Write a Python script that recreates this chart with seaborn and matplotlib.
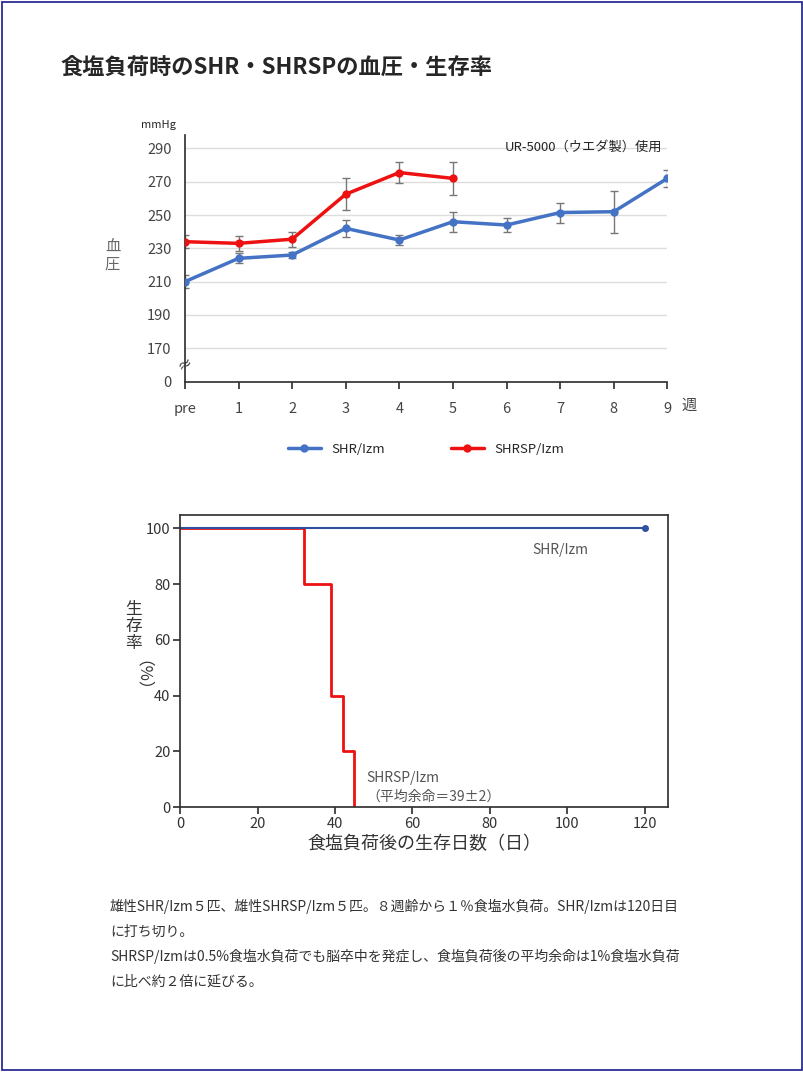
import matplotlib
matplotlib.use('Agg')
import matplotlib.pyplot as plt
import seaborn as sns
import pandas as pd

sns.set_theme(style='white')
plt.rcParams['font.family'] = ['Noto Sans CJK JP', 'DejaVu Sans']

# 血圧データ（"0" は軸の切断位置として 150 に置く）
weeks = ['pre', '1', '2', '3', '4', '5', '6', '7', '8', '9']
shr_bp = [210, 224, 226, 242, 235, 246, 244, 251.5, 252, 272]
shr_err = [4, 3, 2, 5, 3, 6, 4, 6, 12.5, 5]
shrsp_bp = [234, 233, 235.5, 262.5, 275.5, 272]
shrsp_err = [4, 4.5, 4.5, 9.5, 6.5, 10]
y_ticks = [150, 170, 190, 210, 230, 250, 270, 290]
y_labels = ['0', '170', '190', '210', '230', '250', '270', '290']

# 生存率データ
shr_days = [0, 120]
shr_surv = [100, 100]
shrsp_days = [0, 32, 39, 42, 45]
shrsp_surv = [100, 80, 40, 20, 0]

blue = '#4472C4'
red = '#EE1111'

fig = plt.figure(figsize=(8.04, 10.72), dpi=100)
fig.patches.append(plt.Rectangle((0.002, 0.002), 0.996, 0.996, transform=fig.transFigure,
                                 fill=False, edgecolor='#1a1a8c', linewidth=1.2))
fig.text(0.075, 0.93, '食塩負荷時のSHR・SHRSPの血圧・生存率', fontsize=16, fontweight='bold')

# 上段: 血圧
ax1 = fig.add_axes([0.23, 0.644, 0.6, 0.23])
x = list(range(len(weeks)))
df1 = pd.DataFrame({'x': x, 'bp': shr_bp})
df2 = pd.DataFrame({'x': x[:len(shrsp_bp)], 'bp': shrsp_bp})
ax1.errorbar(x, shr_bp, yerr=shr_err, fmt='none', ecolor='#777777', elinewidth=1, capsize=3, zorder=2)
ax1.errorbar(df2['x'], shrsp_bp, yerr=shrsp_err, fmt='none', ecolor='#777777', elinewidth=1, capsize=3, zorder=2)
sns.lineplot(data=df1, x='x', y='bp', ax=ax1, color=blue, marker='o', markersize=6,
             markeredgewidth=0, linewidth=2.5, label='SHR/Izm', zorder=3)
sns.lineplot(data=df2, x='x', y='bp', ax=ax1, color=red, marker='o', markersize=6,
             markeredgewidth=0, linewidth=2.5, label='SHRSP/Izm', zorder=3)
ax1.set_xlim(0, 9)
ax1.set_ylim(150, 298)
ax1.set_yticks(y_ticks)
ax1.set_yticklabels(y_labels)
ax1.set_xticks(x)
ax1.set_xticklabels(weeks)
for yt in y_ticks[1:]:
    ax1.axhline(yt, color='#dddddd', linewidth=1, zorder=0)
for s in ['top', 'right']:
    ax1.spines[s].set_visible(False)
for s in ['left', 'bottom']:
    ax1.spines[s].set_color('#333333')
ax1.tick_params(axis='x', bottom=True, length=5, color='#333333', pad=10, labelsize=10.5, labelcolor='#444444')
ax1.tick_params(axis='y', left=False, labelsize=10.5, labelcolor='#444444')
ax1.set_xlabel('')
ax1.set_ylabel('')
ax1.text(0, 160, '≈', fontsize=11, rotation=30, ha='center', va='center', color='#333333')
ax1.text(-1.35, 226, '血\n圧', fontsize=11, color='#666666', ha='center', va='center', linespacing=1.0)
ax1.text(-0.5, 301, 'mmHg', fontsize=8, ha='center', va='bottom')
ax1.text(8.9, 290.5, 'UR-5000（ウエダ製）使用', fontsize=9.5, ha='right', va='center')
ax1.text(9.4, 136, '週', fontsize=11, color='#444444', ha='center', va='center')
ax1.legend(loc='upper center', bbox_to_anchor=(0.5, -0.2), ncol=2, frameon=False,
           fontsize=9.5, columnspacing=5, handlelength=2.5)

# 下段: 生存率
ax2 = fig.add_axes([0.224, 0.247, 0.607, 0.273])
sns.lineplot(x=shrsp_days, y=shrsp_surv, ax=ax2, color=red, linewidth=2, drawstyle='steps-post')
sns.lineplot(x=shr_days, y=shr_surv, ax=ax2, color='#3050a0', linewidth=1.5)
ax2.plot(shr_days[-1:], shr_surv[-1:], 'o', color='#3050a0', markersize=4)
ax2.set_xlim(0, 126)
ax2.set_ylim(0, 105)
ax2.set_xticks([0, 20, 40, 60, 80, 100, 120])
ax2.set_yticks([0, 20, 40, 60, 80, 100])
for s in ax2.spines.values():
    s.set_color('#333333')
ax2.tick_params(axis='both', bottom=True, left=True, length=5, color='#333333', labelsize=10.5, labelcolor='#333333', pad=2)
ax2.set_xlabel('食塩負荷後の生存日数（日）', fontsize=13, color='#333333', labelpad=3)
ax2.set_ylabel('')
ax2.text(-12, 65, '生\n存\n率', fontsize=12, ha='center', va='center', color='#333333', linespacing=1.0)
ax2.text(-12, 44, '（%）', fontsize=12, ha='center', va='center', rotation=270, color='#333333')
ax2.text(91, 91, 'SHR/Izm', fontsize=10, color='#555555')
ax2.text(48, 9, 'SHRSP/Izm', fontsize=10, color='#555555')
ax2.text(48, 2.5, '（平均余命＝39±2）', fontsize=10, color='#555555')

notes = ['雄性SHR/Izm５匹、雄性SHRSP/Izm５匹。８週齢から１％食塩水負荷。SHR/Izmは120日目',
         'に打ち切り。',
         'SHRSP/Izmは0.5%食塩水負荷でも脳卒中を発症し、食塩負荷後の平均余命は1%食塩水負荷',
         'に比べ約２倍に延びる。']
for i, line in enumerate(notes):
    fig.text(0.137, 0.15 - i * 0.0232, line, fontsize=10, color='#333333')

fig.savefig('out.png', dpi=100)
